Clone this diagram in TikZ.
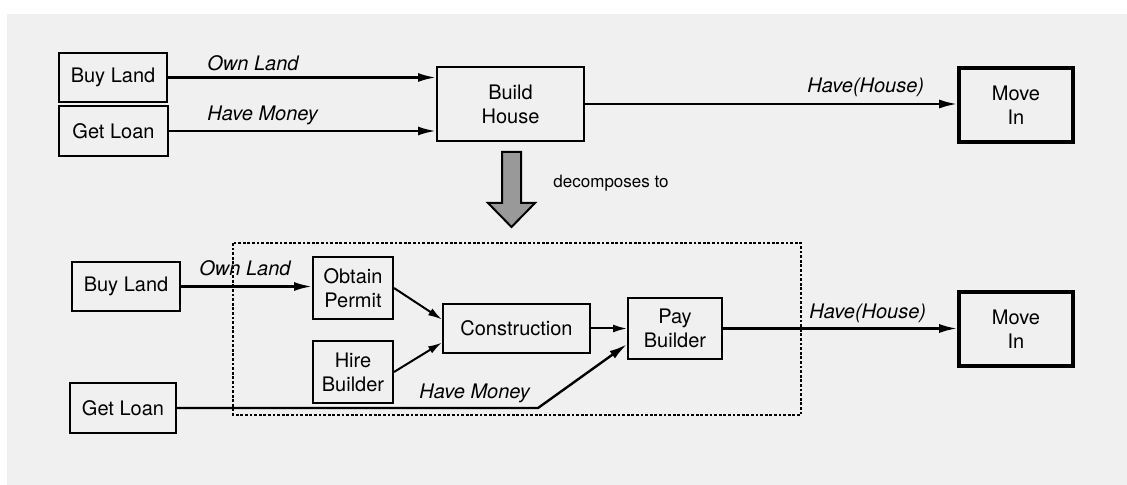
\documentclass[tikz,border=0pt]{standalone}
\usepackage{fontspec}
\setmainfont{TeX Gyre Heros}
\usetikzlibrary{arrows.meta,calc}
\definecolor{panel}{HTML}{F0F0F0}
\definecolor{blockgray}{HTML}{999999}
\begin{document}
\begin{tikzpicture}[x=0.5pt,y=-0.5pt,
  box/.style={draw,line width=1pt,rectangle,inner sep=0pt,align=center,
    font=\fontsize{10}{12}\selectfont},
  goalbox/.style={box,line width=1.8pt},
  flow/.style={line width=1.2pt,-{Latex[length=9pt,width=4.5pt]}},
  subflow/.style={line width=1pt,-{Latex[length=7pt,width=4pt]}},
  lbl/.style={anchor=west,inner sep=0pt,font=\fontsize{10}{12}\selectfont\itshape},
  note/.style={anchor=west,inner sep=0pt,font=\fontsize{8.5}{10}\selectfont},
  region/.style={line width=1pt,dash pattern=on 1.4pt off 0.9pt}]

% canvas
\useasboundingbox (0,0) rectangle (1127,485);
\fill[white] (0,0) rectangle (1127,485);
\fill[panel] (7,14) rectangle (1127,485);

% ---------- abstract plan ----------
\node[box,minimum width=54pt,minimum height=24.5pt] (buy1) at (113,77.5) {Buy Land};
\node[box,minimum width=54.5pt,minimum height=25pt] (loan1) at (113.5,131) {Get Loan};
\node[box,minimum width=73.5pt,minimum height=37pt] (build) at (510.5,104) {Build\\House};
\node[goalbox,minimum width=57pt,minimum height=37pt] (move1) at (1016,105) {Move\\In};

\draw[flow] (buy1.east) -- (buy1.east -| build.west);
\draw[flow] (loan1.east) -- (loan1.east -| build.west);
\draw[flow] (build.east) -- (build.east -| move1.west);

\node[lbl] (ownland1) at (207,63) {Own Land};
\node[lbl] (havemoney1) at (207,115) {Have Money};
\node[lbl] (havehouse1) at (807,87) {Have(House)};

% decomposition arrow
\filldraw[fill=blockgray,draw=black,line width=1pt]
  (502,152) -- (521,152) -- (521,203) -- (535,203) -- (511.5,227)
  -- (488,203) -- (502,203) -- cycle;
\node[note] (decomp) at (553,183) {decomposes to};

% ---------- refined plan ----------
\draw[region] (233,243) rectangle (801,415);

\node[box,minimum width=54pt,minimum height=24.5pt] (buy2) at (126,286.5) {Buy Land};
\node[box,minimum width=53pt,minimum height=25pt] (loan2) at (123,408) {Get Loan};
\node[box,minimum width=40pt,minimum height=31pt] (permit) at (353,288) {Obtain\\Permit};
\node[box,minimum width=40pt,minimum height=31pt] (hire) at (353,372) {Hire\\Builder};
\node[box,minimum width=73.5pt,minimum height=24.5pt] (constr) at (516.5,328.5) {Construction};
\node[box,minimum width=47pt,minimum height=30.5pt] (pay) at (675,328.5) {Pay\\Builder};
\node[goalbox,minimum width=57pt,minimum height=37pt] (move2) at (1016,329) {Move\\In};

\coordinate (bend) at (538,408);

\draw[flow] (buy2.east) -- (buy2.east -| permit.west);
\draw[subflow] (permit.east) -- ($(constr.west)!0.35!(constr.north west)$);
\draw[subflow] (hire.east) -- ($(constr.west)!0.55!(constr.south west)$);
\draw[subflow] (constr.east) -- (pay.west);
\draw[flow] (loan2.east) -- (bend) -- ($(pay.west)!0.5!(pay.south west)$);
\draw[flow] (pay.east) -- (pay.east -| move2.west);

\node[lbl] (ownland2) at (199,268) {Own Land};
\node[lbl] (havemoney2) at (419,393) {Have Money};
\node[lbl] (havehouse2) at (809,313) {Have(House)};

\end{tikzpicture}
\end{document}
